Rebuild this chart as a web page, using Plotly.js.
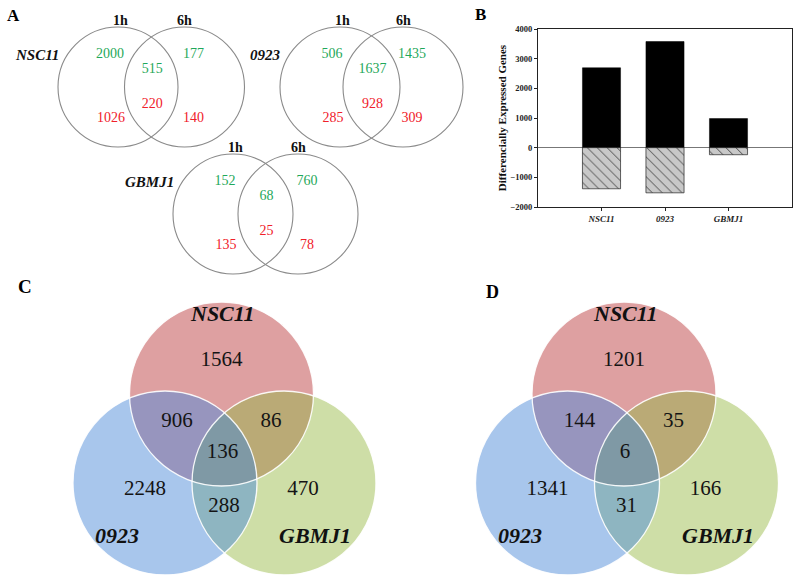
<!DOCTYPE html>
<html><head><meta charset="utf-8">
<script src="https://cdn.plot.ly/plotly-3.0.1.min.js"></script>
<style>html,body{margin:0;padding:0;background:#fff}</style>
</head><body><div id="chart" style="width:800px;height:586px"></div>
<script>
// ---------------- DATA ----------------
const groups = ['NSC11', '0923', 'GBMJ1'];
const timePoints = ['1h', '6h'];
const upOnly1h = [2000, 506, 152];
const upBoth = [515, 1637, 68];
const upOnly6h = [177, 1435, 760];
const downOnly1h = [1026, 285, 135];
const downBoth = [220, 928, 25];
const downOnly6h = [140, 309, 78];

const barCategories = ['NSC11', '0923', 'GBMJ1'];
const upTotals = [2692, 3578, 980];
const downTotals = [-1386, -1522, -238];
const yTickVals = [-2000, -1000, 0, 1000, 2000, 3000, 4000];
const yTitle = 'Differencially Expressed Genes';

const vennSets = ['NSC11', '0923', 'GBMJ1'];
const regionKeys = ['N', 'O', 'G', 'NO', 'NG', 'OG', 'NOG'];
const countsC = [1564, 2248, 470, 906, 86, 288, 136];
const countsD = [1201, 1341, 166, 144, 35, 31, 6];
const panelLetters = ['A', 'B', 'C', 'D'];

// ---------------- LAYOUT / STYLE ----------------
const FONT = 'Liberation Serif, Times New Roman, serif';
const GREEN = '#1fa85a', RED = '#f0202a';
const aPos = [[118, 184.5, 87], [340, 403, 87], [233, 298, 214]];
const aR = 60;
const vennR = 92;
const cPos = [[221.5, 394], [165, 483], [284, 483]];
const dShift = 402.5;
const regionIdx = {N: [0], O: [1], G: [2], NO: [0, 1], NG: [0, 2], OG: [1, 2], NOG: [0, 1, 2]};
const regionColor = {N: 'rgb(222,160,161)', O: 'rgb(168,198,236)', G: 'rgb(206,222,167)',
  NO: 'rgb(151,149,190)', NG: 'rgb(186,170,118)', OG: 'rgb(142,181,193)', NOG: 'rgb(127,153,165)'};
const regionOff = {N: [0, -33], O: [-76.5, 96], G: [81.5, 96], NO: [-44.5, 28], NG: [49.5, 28], OG: [2.5, 113], NOG: [1, 59]};
const setLabelOff = [[1, -81], [-104.5, 141], [93.5, 141]];

const traces = [];
const shapes = [];
const annotations = [];

// ---------- Panel A ----------
const ax = [], ay = [], at = [], ac = [];
groups.forEach((g, i) => {
  const [c1, c2, cy] = aPos[i];
  const mid = (c1 + c2) / 2 + 1;
  const cols = [[c1 - 8, upOnly1h[i], -33, GREEN], [mid, upBoth[i], -18, GREEN], [c2 + 9, upOnly6h[i], -33, GREEN],
                [c1 - 7, downOnly1h[i], 31, RED], [mid, downBoth[i], 17, RED], [c2 + 9, downOnly6h[i], 31, RED]];
  cols.forEach(([x, v, dy, col]) => { ax.push(x); ay.push(cy + dy); at.push(String(v)); ac.push(col); });
  [c1, c2].forEach((cx, k) => {
    shapes.push({type: 'circle', xref: 'x', yref: 'y', x0: cx - aR, x1: cx + aR, y0: cy - aR, y1: cy + aR,
      line: {color: '#8a8a8a', width: 1.1}, fillcolor: 'rgba(0,0,0,0)'});
    annotations.push({xref: 'x', yref: 'y', x: cx + (k === 0 ? 2 : 0), y: cy - 67, text: '<b>' + timePoints[k] + '</b>',
      showarrow: false, font: {family: FONT, size: 14, color: '#111'}});
  });
  annotations.push({xref: 'x', yref: 'y', x: c1 - 57, y: cy - 32, xanchor: 'right', text: '<b><i>' + g + '</i></b>',
    showarrow: false, font: {family: FONT, size: 15, color: '#111'}});
});
traces.push({type: 'scatter', mode: 'text', x: ax, y: ay, text: at, xaxis: 'x', yaxis: 'y',
  textfont: {family: FONT, size: 14, color: ac}, hoverinfo: 'skip', showlegend: false});

// ---------- Panels C & D ----------
function inside(px, py, c) { return (px - c[0]) ** 2 + (py - c[1]) ** 2 <= c[2] * c[2] + 1e-6; }
function regionPoly(circs, idx) {
  const pts = [];
  const N = 900;
  idx.forEach(i => {
    const c = circs[i];
    for (let k = 0; k < N; k++) {
      const a = k / N * 2 * Math.PI;
      const px = c[0] + c[2] * Math.cos(a), py = c[1] + c[2] * Math.sin(a);
      if (idx.every(j => j === i || inside(px, py, circs[j]))) pts.push([px, py]);
    }
  });
  const mx = pts.reduce((s, p) => s + p[0], 0) / pts.length;
  const my = pts.reduce((s, p) => s + p[1], 0) / pts.length;
  pts.sort((p, q) => Math.atan2(p[1] - my, p[0] - mx) - Math.atan2(q[1] - my, q[0] - mx));
  pts.push(pts[0]);
  return {x: pts.map(p => p[0]), y: pts.map(p => p[1])};
}
[[countsC, 0], [countsD, dShift]].forEach(([counts, sh]) => {
  const circs = cPos.map(p => [p[0] + sh, p[1], vennR]);
  regionKeys.forEach(k => {
    const poly = regionPoly(circs, regionIdx[k]);
    traces.push({type: 'scatter', mode: 'lines', x: poly.x, y: poly.y, fill: 'toself', fillcolor: regionColor[k],
      line: {width: 0, color: regionColor[k]}, xaxis: 'x', yaxis: 'y', hoverinfo: 'skip', showlegend: false});
  });
  circs.forEach(c => shapes.push({type: 'circle', xref: 'x', yref: 'y', x0: c[0] - c[2], x1: c[0] + c[2],
    y0: c[1] - c[2], y1: c[1] + c[2], line: {color: 'rgba(255,255,255,0.9)', width: 1.3}, fillcolor: 'rgba(0,0,0,0)'}));
  const red = circs[0];
  traces.push({type: 'scatter', mode: 'text', xaxis: 'x', yaxis: 'y', hoverinfo: 'skip', showlegend: false,
    x: regionKeys.map(k => red[0] + regionOff[k][0]), y: regionKeys.map(k => red[1] + regionOff[k][1]),
    text: counts.map(String), textfont: {family: FONT, size: 21, color: '#141414'}});
  vennSets.forEach((s, i) => annotations.push({xref: 'x', yref: 'y', x: red[0] + setLabelOff[i][0], y: red[1] + setLabelOff[i][1],
    text: '<b><i>' + s + '</i></b>', showarrow: false, font: {family: FONT, size: 22, color: '#111'}}));
});

// ---------- Panel B ----------
traces.push({type: 'bar', x: barCategories, y: upTotals, xaxis: 'x2', yaxis: 'y2', width: 0.6,
  marker: {color: '#000', line: {color: '#000', width: 0.5}}, hoverinfo: 'skip', showlegend: false});
traces.push({type: 'bar', x: barCategories, y: downTotals, xaxis: 'x2', yaxis: 'y2', width: 0.6,
  marker: {color: '#c8c8c8', line: {color: '#222', width: 0.7},
    pattern: {shape: '\\', fgcolor: '#333', bgcolor: '#c8c8c8', size: 7, solidity: 0.12}},
  hoverinfo: 'skip', showlegend: false});

// Panel letters
const letterPos = [[13, 15, 17], [480, 14, 17], [25, 286, 19], [492, 292, 18]];
panelLetters.forEach((L, i) => annotations.push({xref: 'x', yref: 'y', x: letterPos[i][0], y: letterPos[i][1],
  text: '<b>' + L + '</b>', showarrow: false, font: {family: FONT, size: letterPos[i][2], color: '#000'}}));

const layout = {
  width: 800, height: 586, margin: {l: 0, r: 0, t: 0, b: 0}, paper_bgcolor: '#fff', plot_bgcolor: 'rgba(0,0,0,0)',
  showlegend: false, barmode: 'relative',
  xaxis: {domain: [0, 1], range: [0, 800], visible: false, fixedrange: true, anchor: 'y'},
  yaxis: {domain: [0, 1], range: [586, 0], visible: false, fixedrange: true, anchor: 'x'},
  xaxis2: {domain: [538 / 800, 792 / 800], anchor: 'y2', type: 'category', range: [-1, 3],
    showline: true, mirror: true, linecolor: '#222', linewidth: 1, ticks: 'outside', ticklen: 3, tickcolor: '#222',
    showgrid: false, zeroline: false, tickfont: {family: FONT, size: 9, weight: 'bold', style: 'italic', color: '#222'}},
  yaxis2: {domain: [1 - 207 / 586, 1 - 29 / 586], anchor: 'x2', range: [-2000, 4000], tickvals: yTickVals,
    showline: true, mirror: true, linecolor: '#222', linewidth: 1, ticks: 'outside', ticklen: 3, tickcolor: '#222',
    showgrid: false, zeroline: true, zerolinecolor: '#777', zerolinewidth: 1,
    tickfont: {family: FONT, size: 8.5, weight: 'bold', color: '#222'},
    title: {text: yTitle, standoff: 1, font: {family: FONT, size: 11, weight: 'bold', color: '#111'}}},
  shapes: shapes, annotations: annotations
};
Plotly.newPlot('chart', traces, layout, {staticPlot: true, displayModeBar: false});
</script></body></html>
